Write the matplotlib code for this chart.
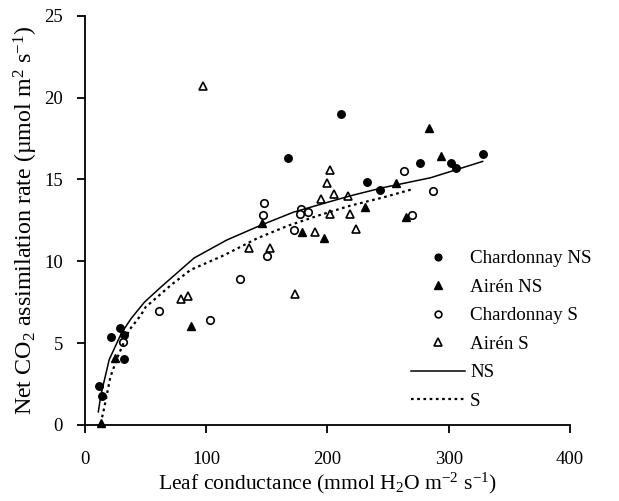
"""Net CO2 assimilation vs leaf conductance, Chardonnay and Airén."""
import matplotlib
matplotlib.use("Agg")
import matplotlib.pyplot as plt

plt.rcParams["font.family"] = ["Liberation Serif", "DejaVu Serif"]
plt.rcParams["mathtext.fontset"] = "custom"
plt.rcParams["mathtext.rm"] = "Liberation Serif"
plt.rcParams["mathtext.it"] = "Liberation Serif:italic"
plt.rcParams["font.size"] = 13

# leaf conductance (x) and net assimilation (y) per group
chard_ns_x = [11.8, 13.7, 21.4, 29, 32.4, 32.4, 167.6, 211.5, 232.7, 243.6, 276.5, 302, 306, 328]
chard_ns_y = [2.4, 1.8, 5.36, 5.94, 5.5, 4.03, 16.33, 19.02, 14.84, 14.36, 15.98, 16.0, 15.7, 16.55]

airen_ns_x = [13.2, 24.7, 87.2, 145.7, 179.2, 197, 231.3, 256.8, 265, 283.4, 294]
airen_ns_y = [0.1, 4.07, 6.07, 12.32, 11.77, 11.4, 13.3, 14.76, 12.72, 18.12, 16.4]

chard_s_x = [31, 61.2, 102.9, 127.6, 150.4, 147.6, 146.8, 177.8, 177, 183.8, 172.3, 263.4, 269.7, 287]
chard_s_y = [5.05, 6.96, 6.41, 8.92, 10.32, 13.54, 12.83, 13.2, 12.9, 13.0, 11.9, 15.53, 12.83, 14.3]

airen_s_x = [97.6, 79, 85.3, 135.2, 153, 173, 190, 201.9, 199.2, 205.2, 195, 216.7, 201.9, 218.9, 223.9]
airen_s_y = [20.73, 7.7, 7.9, 10.83, 10.83, 8.0, 11.77, 15.58, 14.76, 14.1, 13.78, 14.0, 12.9, 12.9, 12.0]

# fitted curves
fit_ns_x = [11, 13, 20, 30, 38, 49, 63, 90, 117, 145, 172, 200, 219, 246, 285, 328]
fit_ns_y = [0.8, 1.8, 4.0, 5.6, 6.5, 7.5, 8.45, 10.2, 11.3, 12.2, 13.0, 13.6, 14.0, 14.5, 15.1, 16.1]

fit_s_x = [13, 16, 21, 27, 36.5, 46, 50, 71, 87, 115, 142, 167, 194, 219, 246, 270]
fit_s_y = [0.1, 1.1, 2.95, 4.17, 5.8, 6.7, 7.2, 8.55, 9.47, 10.38, 11.4, 12.16, 12.83, 13.4, 13.9, 14.4]

x_ticks = [0, 100, 200, 300, 400]
y_ticks = [0, 5, 10, 15, 20, 25]

fig = plt.figure(figsize=(6.19, 5.01), dpi=100)
ax = fig.add_axes([0.1373, 0.1517, 0.7835, 0.817])

ax.plot(chard_ns_x, chard_ns_y, "o", ms=5.4, color="black", mec="black",
        label="Chardonnay NS", clip_on=False)
ax.plot(airen_ns_x, airen_ns_y, "^", ms=6.2, color="black", mec="black",
        label="Airén NS", clip_on=False)
ax.plot(chard_s_x, chard_s_y, "o", ms=5.4, mfc="white", mec="black", mew=1.2,
        label="Chardonnay S", clip_on=False)
ax.plot(airen_s_x, airen_s_y, "^", ms=6.2, mfc="white", mec="black", mew=1.2,
        label="Airén S", clip_on=False)
ax.plot(fit_ns_x, fit_ns_y, "-", color="black", lw=1.1, label="NS")
ax.plot(fit_s_x, fit_s_y, color="black", lw=1.6, ls=(0, (1.2, 1.6)), label="S")

ax.set_xlim(0, 400)
ax.set_ylim(0, 25)
ax.set_xticks(x_ticks)
ax.set_yticks(y_ticks)
for side in ("top", "right"):
    ax.spines[side].set_visible(False)
for side in ("left", "bottom"):
    ax.spines[side].set_linewidth(1.3)
ax.tick_params(direction="out", length=6, width=1.3, labelsize=13.5)
ax.tick_params(axis="x", pad=13)
ax.tick_params(axis="y", pad=10)

ax.set_xlabel(r"Leaf conductance (mmol H$_2$O m$^{-2}$ s$^{-1}$)",
              fontsize=15.6, labelpad=2)
ax.set_ylabel(r"Net CO$_2$ assimilation rate (µmol m$^2$ s$^{-1}$)",
              fontsize=17.3, labelpad=3)

ax.legend(loc="upper left", bbox_to_anchor=(0.649, 0.52),
          bbox_transform=fig.transFigure, frameon=False, borderpad=0,
          handlelength=2.85, handletextpad=0.25, labelspacing=0.59,
          markerscale=0.9, fontsize=13.7)

plt.savefig("out.png", dpi=100)
